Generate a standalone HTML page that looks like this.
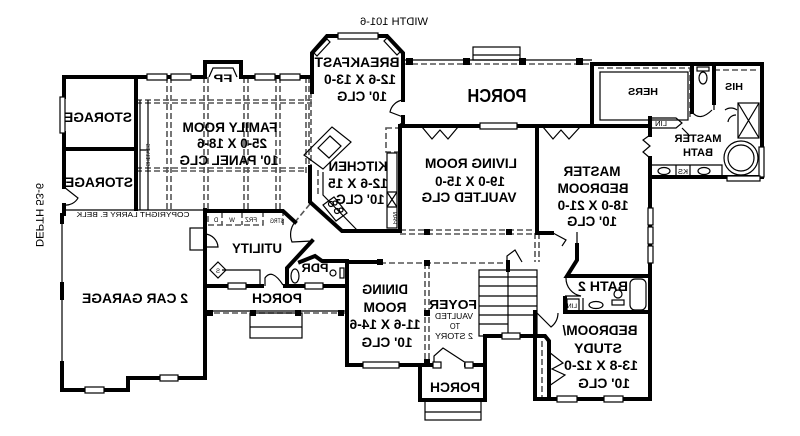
<!DOCTYPE html>
<html><head><meta charset="utf-8"><style>
html,body{margin:0;padding:0;background:#fff;}
svg{display:block;}
text{font-family:"Liberation Sans",Arial,sans-serif;fill:#000;}
.b{font-weight:bold;}
</style></head><body>
<svg width="800" height="436" viewBox="0 0 800 436" xmlns="http://www.w3.org/2000/svg">
<rect width="800" height="436" fill="#fff"/>

<!-- dashed beams / overhead lines -->
<g fill="none" stroke="#555" stroke-width="1.6" stroke-dasharray="6 3">
  <path d="M136,100H312M136,103H312M136,168H305M136,171H305"/>
  <path d="M167,77V210M171,77V210M204,77V210M208,77V210M244,77V210M248,77V210M276,77V210M280,77V210M306,77V175M309,77V175"/>
  <path d="M311,92V167"/>
  <path d="M403,64H592"/>
  <path d="M598,68H690V118"/>
  <path d="M714,70H758"/>
  <path d="M400,230H537M400,234H537"/>
  <path d="M380,263H508M425,263V365M429,263V365"/>
  <path d="M205,313H347"/>
  <path d="M535,233V262M539,233V262"/>
  <path d="M542,341V399"/>
  <path d="M310,204L295,222"/>
  <path d="M386,128H399V152H386Z"/>
  <path d="M318,170V197"/>
  <path d="M208,212H263V225H208ZM222,212V225M242,212V225M263,212H283V225"/>
</g>

<!-- thin lines -->
<g fill="none" stroke="#000" stroke-width="1.2">
  <path d="M403,60H592"/>
  <rect x="473" y="47" width="47" height="13"/>
  <path d="M473,55H520"/>
  <rect x="600" y="72" width="88" height="48"/>
  <path d="M205,311H347"/>
  <rect x="250" y="313" width="52" height="25"/>
  <path d="M250,327H302"/>
  <rect x="425" y="400" width="56" height="20"/>
  <path d="M425,412H481"/>
  <path d="M62,215V390"/>
  <path d="M64,210H205"/>
  <!-- stairs -->
  <rect x="479" y="270" width="58" height="66"/>
  <path d="M508,270V336M479,277H537M479,286H537M479,296H537M479,306H537M479,315H537M479,324H508"/>
  <!-- kitchen -->
  <rect x="387" y="153" width="10" height="75"/>
  <path d="M387,192H397M387,207H397M387,192L397,207M397,192L387,207"/>
  <polygon points="304,155 332,127 351,142 323,169"/>
  <polygon points="318,148 330,136 341,146 329,158"/>
  <path d="M323,172V195L357,230"/>
  <polygon points="323,205 334,197 347,213 336,221"/>
  <circle cx="331" cy="204" r="2.5"/><circle cx="337" cy="211" r="2.5"/><circle cx="335" cy="203" r="2"/><circle cx="341" cy="210" r="2"/>
  <!-- shelves -->
  <path d="M140,100V210M148,100V210M140,150H148"/>
  <!-- FP inner -->
  <path d="M209,77L213,68H233L237,77"/>
  <!-- master bath fixtures -->
  <rect x="697" y="67" width="12" height="4"/>
  <ellipse cx="703" cy="78" rx="4" ry="6"/>
  <rect x="738" y="103" width="21" height="35"/>
  <path d="M738,103L759,138M759,103L738,138"/>
  <circle cx="741" cy="158" r="17"/>
  <circle cx="741" cy="158" r="13"/>
  <path d="M650,165H722V177"/>
  <ellipse cx="664" cy="171" rx="6" ry="3.5"/><ellipse cx="704" cy="171" rx="6" ry="3.5"/>
  <path d="M676,165V177M690,165V177"/>
  <path d="M650,118H676L682,123L676,128H650"/>
  <path d="M714,103V110M725,110A10,10 0 0 1 737,110M692,112Q700,122 712,110"/>
  <!-- bath 2 fixtures -->
  <rect x="630" y="279" width="16" height="31" rx="5"/>
  <circle cx="618" cy="294" r="4"/><rect x="612" y="300" width="12" height="5"/>
  <ellipse cx="596" cy="305" rx="7" ry="3.5"/>
  <rect x="567" y="299" width="12" height="12"/>
  <path d="M583,298V312"/>
  <!-- PDR fixtures -->
  <ellipse cx="295" cy="276" rx="4" ry="7"/>
  <circle cx="333" cy="273" r="3"/><rect x="340" y="268" width="4" height="10"/>
  <!-- utility -->
  <path d="M222,270H260V286"/>
  <polygon points="218,262 226,270 218,278 210,270"/>
  <rect x="190" y="228" width="14" height="22"/>
  <!-- doors -->
  <path d="M64,187L78,198A14,14 0 0 1 64,205"/>
  <path d="M205,234A14,14 0 0 1 218,247L205,247"/>
  <path d="M265,286V278Q272,268 283,285"/>
  <path d="M434,365V356L443,348L466,363"/>
  <path d="M403,100A15,15 0 0 0 390,112L403,117"/>
  <path d="M650,135L643,140L650,146L643,152L650,158"/>
  <path d="M566,278A18,18 0 0 0 581,296L565,296"/>
  <path d="M537,313L551,327A18,18 0 0 0 558,313"/>
  <path d="M549,352L563,363L552,369L565,375L549,386"/>
  <path d="M553,233L566,240L562,246M577,245V232"/>
  <path d="M507,263V256L515,250L522,262"/>
  <path d="M295,222A20,20 0 0 0 292,242L312,241"/>
  <path d="M422,127L432,139L440,130L448,139L458,127"/>
  <path d="M543,127L553,139L561,130L569,139L580,127"/>
  <path d="M682,128L690,136M736,115A8,8 0 0 0 728,122"/>
</g>

<!-- thick walls -->
<g fill="none" stroke="#000" stroke-width="4" stroke-linecap="square" stroke-linejoin="miter">
  <path d="M64,77V97M64,133V187M64,205V214"/>
  <path d="M64,77H205M241,77H311"/>
  <path d="M136,77V209M64,149H136"/>
  <path d="M205,77V62H241V77"/>
  <path d="M312,92V53L327,36H387L403,53V100M403,117V124L400,126V231"/>
  <path d="M310,167V202L342,231H400"/>
  <path d="M400,126H592M592,64V126H650"/>
  <path d="M592,64H762V177H650V158M650,135V118"/>
  <path d="M692,65V112M714,65V103"/>
  <path d="M650,177V276"/>
  <path d="M537,126V233H552"/>
  <path d="M577,245V260L567,276H650"/>
  <path d="M565,298V312H650M650,276V399H535V312"/>
  <path d="M535,336H545L549,341V399"/>
  <path d="M380,262H347V365H420"/>
  <path d="M420,365V400H485V336H537"/>
  <path d="M420,365H434M466,365H485"/>
  <path d="M508,262V270"/>
  <path d="M62,215V222M62,284V298M62,363V390H128V378H205V210"/>
  <path d="M205,211H283L295,222"/>
  <path d="M205,286H262M285,286H347"/>
  <path d="M312,241L287,268V286M347,262V286M300,262L315,256L322,261H347"/>
</g>

<!-- windows -->
<g fill="#fff" stroke="#000" stroke-width="1.2">
  <rect x="147" y="74" width="20" height="6"/><rect x="171" y="74" width="20" height="6"/>
  <rect x="255" y="74" width="20" height="6"/><rect x="280" y="74" width="20" height="6"/>
  <rect x="338" y="33" width="40" height="6"/>
  <polygon points="314,53 327,39 330,42 317,56"/>
  <polygon points="387,38 400,52 397,55 384,41"/>
  <rect x="480" y="123" width="37" height="6"/>
  <rect x="759" y="147" width="5" height="30"/>
  <rect x="727" y="176" width="33" height="5"/>
  <rect x="648" y="208" width="5" height="17"/><rect x="648" y="227" width="5" height="17"/><rect x="648" y="246" width="5" height="17"/>
  <rect x="85" y="387" width="19" height="6"/><rect x="160" y="375" width="18" height="6"/>
  <rect x="228" y="283" width="18" height="6"/><rect x="305" y="283" width="18" height="6"/>
  <rect x="363" y="362" width="36" height="6"/>
  <rect x="433" y="362" width="8" height="6"/><rect x="465" y="362" width="8" height="6"/>
  <rect x="502" y="333" width="18" height="6"/>
  <rect x="557" y="396" width="20" height="6"/><rect x="604" y="396" width="19" height="6"/>
  <rect x="60" y="97" width="5" height="36"/>
</g>

<!-- columns -->
<g fill="#000">
  <rect x="406" y="58" width="7" height="7"/><rect x="463" y="58" width="7" height="7"/>
  <rect x="519" y="58" width="7" height="7"/><rect x="576" y="58" width="7" height="7"/>
  <rect x="424" y="229" width="6" height="6"/><rect x="506" y="229" width="6" height="6"/>
  <rect x="377" y="259" width="6" height="6"/><rect x="424" y="260" width="6" height="6"/>
  <rect x="424" y="310" width="6" height="6"/><rect x="424" y="359" width="6" height="6"/>
  <rect x="207" y="310" width="6" height="6"/><rect x="250" y="310" width="6" height="6"/>
  <rect x="295" y="310" width="6" height="6"/><rect x="338" y="310" width="6" height="6"/>
</g>

<!-- labels (mirrored as in reference) -->
<g transform="matrix(-1,0,0,1,800,0)" text-anchor="middle">
  <text x="406" y="25" font-size="11" textLength="68" lengthAdjust="spacingAndGlyphs">WIDTH 101-6</text>
  <text class="b" x="702" y="122" font-size="14" textLength="68" lengthAdjust="spacingAndGlyphs">STORAGE</text>
  <text class="b" x="701" y="187" font-size="14" textLength="68" lengthAdjust="spacingAndGlyphs">STORAGE</text>
  <text class="b" x="570" y="132" font-size="14" textLength="95" lengthAdjust="spacingAndGlyphs">FAMILY ROOM</text>
  <text class="b" x="568" y="148" font-size="14" textLength="70" lengthAdjust="spacingAndGlyphs">25-0 X 18-6</text>
  <text class="b" x="571" y="165" font-size="14" textLength="99" lengthAdjust="spacingAndGlyphs">10' PANEL CLG</text>
  <text class="b" x="577" y="82" font-size="11" textLength="19" lengthAdjust="spacingAndGlyphs">FP</text>
  <text class="b" x="443" y="67" font-size="14" textLength="85" lengthAdjust="spacingAndGlyphs">BREAKFAST</text>
  <text class="b" x="440" y="84" font-size="14" textLength="72" lengthAdjust="spacingAndGlyphs">12-6 X 13-0</text>
  <text class="b" x="438" y="101" font-size="14" textLength="50" lengthAdjust="spacingAndGlyphs">10' CLG</text>
  <text class="b" x="442" y="171" font-size="14" textLength="59" lengthAdjust="spacingAndGlyphs">KITCHEN</text>
  <text class="b" x="442" y="188" font-size="14" textLength="60" lengthAdjust="spacingAndGlyphs">12-6 X 15</text>
  <text class="b" x="440" y="204" font-size="14" textLength="49" lengthAdjust="spacingAndGlyphs">10' CLG</text>
  <text class="b" x="303" y="102" font-size="18" textLength="59" lengthAdjust="spacingAndGlyphs">PORCH</text>
  <text class="b" x="329" y="168" font-size="14" textLength="92" lengthAdjust="spacingAndGlyphs">LIVING ROOM</text>
  <text class="b" x="330" y="186" font-size="14" textLength="70" lengthAdjust="spacingAndGlyphs">19-0 X 15-0</text>
  <text class="b" x="331" y="202" font-size="14" textLength="95" lengthAdjust="spacingAndGlyphs">VAULTED CLG</text>
  <text class="b" x="208" y="176" font-size="14" textLength="57" lengthAdjust="spacingAndGlyphs">MASTER</text>
  <text class="b" x="207" y="193" font-size="14" textLength="71" lengthAdjust="spacingAndGlyphs">BEDROOM</text>
  <text class="b" x="207" y="210" font-size="14" textLength="71" lengthAdjust="spacingAndGlyphs">18-0 X 21-0</text>
  <text class="b" x="208" y="226" font-size="14" textLength="50" lengthAdjust="spacingAndGlyphs">10' CLG</text>
  <text class="b" x="157" y="95" font-size="10" textLength="30" lengthAdjust="spacingAndGlyphs">HERS</text>
  <text class="b" x="66" y="90" font-size="10" textLength="18" lengthAdjust="spacingAndGlyphs">HIS</text>
  <text class="b" x="102" y="142" font-size="11" textLength="47" lengthAdjust="spacingAndGlyphs">MASTER</text>
  <text class="b" x="102" y="156" font-size="11" textLength="30" lengthAdjust="spacingAndGlyphs">BATH</text>
  <text x="139" y="126" font-size="7" textLength="12" lengthAdjust="spacingAndGlyphs">LIN</text>
  <text x="117" y="174" font-size="7" textLength="10" lengthAdjust="spacingAndGlyphs">KS</text>
  <text class="b" x="543" y="253" font-size="14" textLength="50" lengthAdjust="spacingAndGlyphs">UTILITY</text>
  <text class="b" x="665" y="303" font-size="14" textLength="106" lengthAdjust="spacingAndGlyphs">2 CAR GARAGE</text>
  <text class="b" x="523" y="303" font-size="14" textLength="50" lengthAdjust="spacingAndGlyphs">PORCH</text>
  <text class="b" x="485" y="272" font-size="12" textLength="27" lengthAdjust="spacingAndGlyphs">PDR</text>
  <text class="b" x="415" y="294" font-size="14" textLength="46" lengthAdjust="spacingAndGlyphs">DINING</text>
  <text class="b" x="415" y="312" font-size="14" textLength="43" lengthAdjust="spacingAndGlyphs">ROOM</text>
  <text class="b" x="415" y="329" font-size="14" textLength="71" lengthAdjust="spacingAndGlyphs">11-6 X 14-6</text>
  <text class="b" x="413" y="347" font-size="14" textLength="51" lengthAdjust="spacingAndGlyphs">10' CLG</text>
  <text class="b" x="347" y="309" font-size="13" textLength="48" lengthAdjust="spacingAndGlyphs">FOYER</text>
  <text x="346" y="319" font-size="8" textLength="38" lengthAdjust="spacingAndGlyphs">VAULTED</text>
  <text x="345" y="329" font-size="8" textLength="10" lengthAdjust="spacingAndGlyphs">TO</text>
  <text x="346" y="339" font-size="8" textLength="38" lengthAdjust="spacingAndGlyphs">2 STORY</text>
  <text class="b" x="345" y="392" font-size="14" textLength="50" lengthAdjust="spacingAndGlyphs">PORCH</text>
  <text class="b" x="197" y="291" font-size="14" textLength="50" lengthAdjust="spacingAndGlyphs">BATH 2</text>
  <text class="b" x="200" y="335" font-size="14" textLength="75" lengthAdjust="spacingAndGlyphs">BEDROOM/</text>
  <text class="b" x="202" y="353" font-size="14" textLength="48" lengthAdjust="spacingAndGlyphs">STUDY</text>
  <text class="b" x="199" y="370" font-size="14" textLength="74" lengthAdjust="spacingAndGlyphs">13-8 X 12-0</text>
  <text class="b" x="196" y="388" font-size="14" textLength="52" lengthAdjust="spacingAndGlyphs">10' CLG</text>
  <text x="667" y="217" font-size="7.5" textLength="113" lengthAdjust="spacingAndGlyphs">COPYRIGHT LARRY E. BELK</text>
  <text x="523" y="223" font-size="6" textLength="14" lengthAdjust="spacingAndGlyphs">STRG</text>
  <text x="549" y="222" font-size="6" textLength="12" lengthAdjust="spacingAndGlyphs">FRZ</text>
  <text x="568" y="222" font-size="6">W</text>
  <text x="584" y="222" font-size="6">D</text>
  <text x="228" y="308" font-size="6" textLength="10" lengthAdjust="spacingAndGlyphs">LIN</text>
  <text x="582" y="273" font-size="6">S</text>
</g>
<text transform="translate(393,218) scale(-1,1) rotate(-90)" font-family="Liberation Sans, sans-serif" font-size="6" text-anchor="middle">PAN</text>
<text transform="translate(146,155) scale(-1,1) rotate(-90)" font-family="Liberation Sans, sans-serif" font-size="5" text-anchor="middle">SHELVES</text>
<text transform="translate(36,215) scale(-1,1) rotate(-90)" font-family="Liberation Sans, sans-serif" font-size="11" text-anchor="middle" textLength="64" lengthAdjust="spacingAndGlyphs">DEPTH 53-6</text>
</svg>
</body></html>
